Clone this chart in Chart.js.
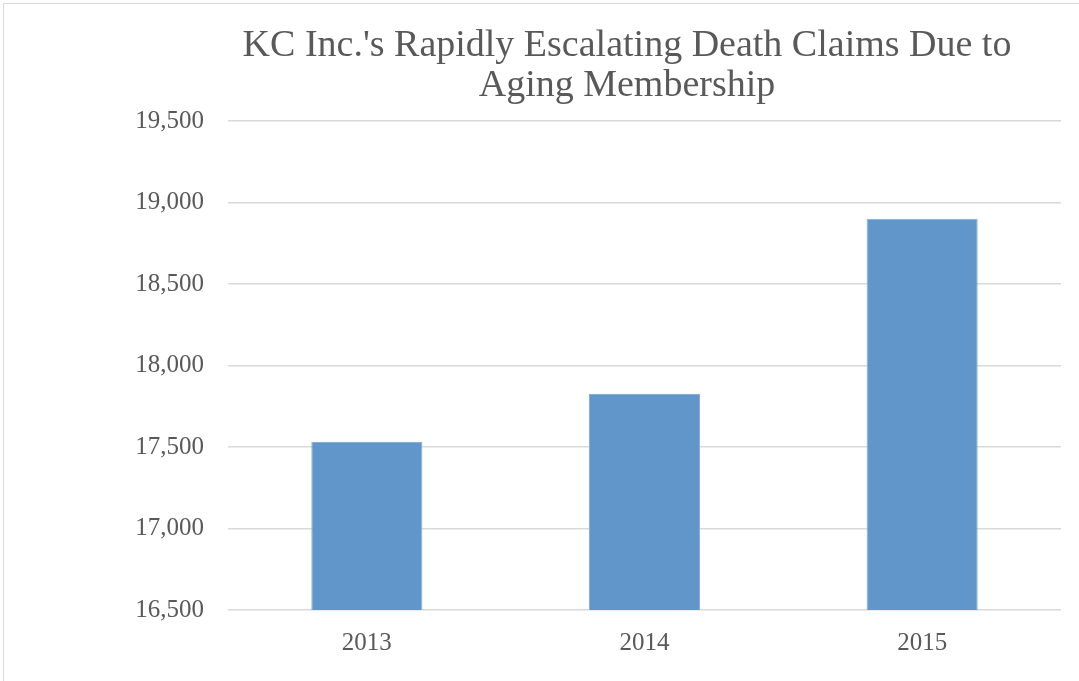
<!DOCTYPE html>
<html>
<head>
<meta charset="utf-8">
<script src="https://cdn.jsdelivr.net/npm/chart.js@4"></script>
<style>
    body { margin: 0; background: #fff; }
    #wrap { position: relative; width: 1079px; height: 681px; overflow: hidden; }
    #frame { position: absolute; left: 3px; top: 3px; width: 1100px; height: 700px; border: 1px solid #d9d9d9; box-sizing: border-box; pointer-events: none; }
    canvas { position: absolute; left: 0; top: 0; }
</style>
</head>
<body>
<div id="wrap">
    <canvas id="chart" width="1079" height="681"></canvas>
    <div id="frame"></div>
</div>
<script>
// Chart data
const years = ['2013', '2014', '2015'];
const deathClaims = [17530, 17825, 18900];
const titleLines = ["KC Inc.'s Rapidly Escalating Death Claims Due to", 'Aging Membership'];

const textColor = '#595959';
const gridColor = '#d9d9d9';
const serif = "'Liberation Serif', 'DejaVu Serif', serif";

// Title is drawn by hand so it can sit a bit left of the plot centre, like the original
const titlePlugin = {
    id: 'offsetTitle',
    afterDraw: function(chart) {
        const c = chart.ctx;
        c.save();
        c.fillStyle = textColor;
        c.font = '38px ' + serif;
        c.textAlign = 'center';
        c.textBaseline = 'alphabetic';
        titleLines.forEach(function(line, i) {
            c.fillText(line, 627, 56 + i * 40);
        });
        c.restore();
    }
};

const ctx = document.getElementById('chart');
new Chart(ctx, {
    type: 'bar',
    data: {
        labels: years,
        datasets: [{
            data: deathClaims,
            backgroundColor: '#6096c9',
            borderColor: '#86afd8',
            borderWidth: 1,
            barPercentage: 0.4,
            categoryPercentage: 1.0
        }]
    },
    options: {
        responsive: false,
        animation: false,
        layout: { padding: { left: 0, right: 18, top: 121, bottom: 0 } },
        plugins: {
            legend: { display: false },
            tooltip: { enabled: false },
            title: { display: false }
        },
        scales: {
            x: {
                grid: { display: false, drawTicks: false },
                border: { display: false },
                ticks: { color: textColor, font: { family: serif, size: 25 }, padding: 18 },
                afterFit: function(scale) { scale.height = 71; }
            },
            y: {
                min: 16500,
                max: 19500,
                grid: { color: gridColor, lineWidth: 1.5, drawTicks: false },
                border: { display: false },
                ticks: {
                    stepSize: 500,
                    color: textColor,
                    font: { family: serif, size: 25 },
                    padding: 24,
                    callback: function(v) { return v.toLocaleString('en-US'); }
                },
                afterFit: function(scale) { scale.width = 228; }
            }
        }
    },
    plugins: [titlePlugin]
});
</script>
</body>
</html>
